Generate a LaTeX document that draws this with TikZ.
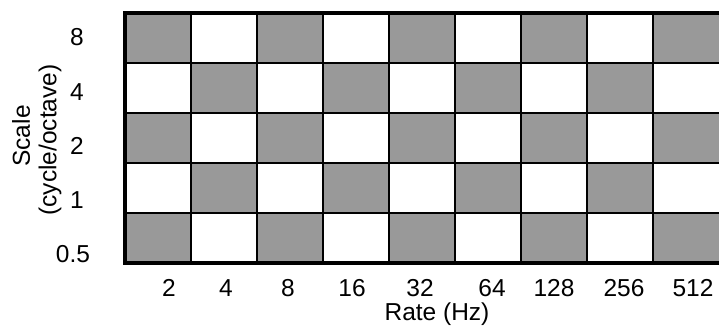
\documentclass[tikz,border=0pt]{standalone}
\usepackage{fontspec}
\setmainfont{Liberation Sans}
\definecolor{cellgray}{RGB}{153,153,153}
\begin{document}
\begin{tikzpicture}[x=1pt,y=-1pt,
  lbl/.style={font=\fontsize{24.5}{29}\selectfont, inner sep=0pt},
  inner/.style={line width=1.8pt, black},
  outer/.style={line width=3.2pt, black}]
\useasboundingbox (0,0) rectangle (719,329);
\begin{scope}
\clip (0,0) rectangle (719,329);
\foreach \i in {0,...,8} {
  \foreach \j in {0,...,4} {
    \pgfmathtruncatemacro\cellparity{mod(\i+\j,2)}
    \ifnum\cellparity=0
      \fill[cellgray] (125+66*\i,13+50*\j) rectangle ++(66,50);
    \fi
  }
}
\foreach \i in {1,...,8} \draw[inner] (125+66*\i,13) -- (125+66*\i,263);
\foreach \j in {1,...,4} \draw[inner] (125,13+50*\j) -- (722,13+50*\j);
\draw[outer] (722,13) -- (125,13) -- (125,263) -- (722,263);
\end{scope}
% y tick labels
\node[lbl] (y8) at (77,37) {8};
\node[lbl] (y4) at (77,92) {4};
\node[lbl] (y2) at (77,146) {2};
\node[lbl] (y1) at (77,200) {1};
\node[lbl] (y05) at (73,254) {0.5};
\node[lbl, rotate=90] (scale) at (21,136) {Scale};
\node[lbl, rotate=90] (unit) at (50,140) {(cycle/octave)};
% x tick labels
\node[lbl] (x2) at (169,288) {2};
\node[lbl] (x4) at (226,288) {4};
\node[lbl] (x8) at (288,288) {8};
\node[lbl] (x16) at (352,288) {16};
\node[lbl] (x32) at (420,288) {32};
\node[lbl] (x64) at (492,288) {64};
\node[lbl] (x128) at (554,288) {128};
\node[lbl] (x256) at (624,288) {256};
\node[lbl] (x512) at (693,288) {512};
\node[lbl] (rate) at (437,314) {Rate (Hz)};
\end{tikzpicture}
\end{document}
